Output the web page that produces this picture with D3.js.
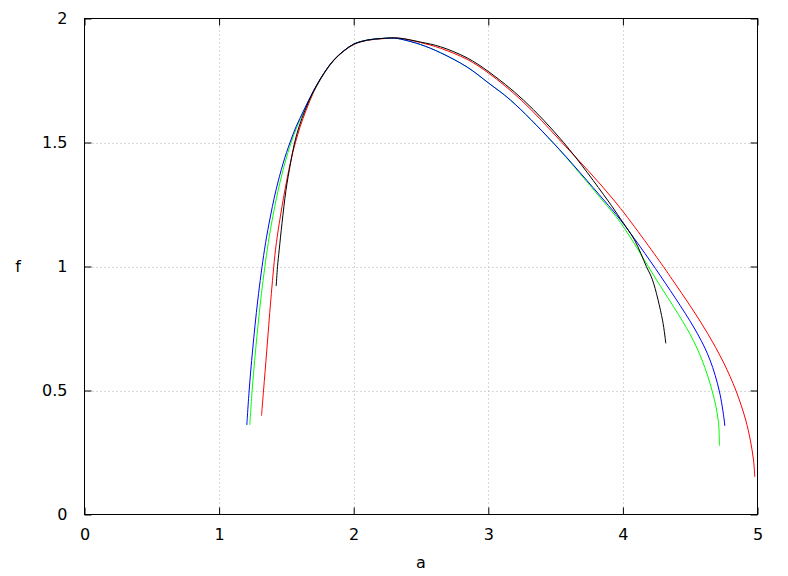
<!DOCTYPE html>
<html><head><meta charset="utf-8">
<script src="https://cdn.jsdelivr.net/npm/d3@7"></script>
<style>body{margin:0;background:#fff}svg{display:block}text{font-family:"DejaVu Sans",sans-serif;font-size:16px;fill:#000}</style>
</head><body><svg id="c" width="788" height="576"></svg>
<script>
const xTicks = [0, 1, 2, 3, 4, 5];
const yTicks = [0, 0.5, 1, 1.5, 2];
const yTickLabels = ["0", "0.5", "1", "1.5", "2"];

const blueA = [1.206,1.223,1.249,1.2875,1.337,1.3715,1.4227,1.4762,1.5253,1.5713,1.630,1.6976,1.7779,1.8522,1.9264,2.0007,2.1003,2.2236,2.2957,2.3477,2.4963,2.6449,2.8432,3.0037,3.1649,3.4822,3.8581,3.9822,4.2793,4.5520,4.6471,4.7162,4.7526,4.7571];
const blueF = [0.361,0.498,0.663,0.865,1.067,1.175,1.308,1.417,1.498,1.563,1.631,1.705,1.779,1.833,1.870,1.897,1.913,1.920,1.921,1.917,1.895,1.862,1.804,1.739,1.671,1.499,1.268,1.1875,0.962,0.731,0.623,0.498,0.381,0.357];

const greenA = [1.2281,1.2452,1.2712,1.3091,1.3574,1.3900,1.4391,1.4889,1.5342,1.5780,1.6345,1.7013,1.7794,1.8536,1.9279,2.0022,2.1003,2.2236,2.2957,2.3477,2.4963,2.6449,2.8432,3.0037,3.1649,3.4822,3.8462,3.9822,4.2496,4.4948,4.5877,4.6634,4.7080,4.7177];
const greenF = [0.361,0.498,0.663,0.865,1.067,1.175,1.308,1.417,1.498,1.563,1.631,1.705,1.779,1.833,1.870,1.897,1.913,1.920,1.921,1.917,1.895,1.862,1.804,1.739,1.671,1.498,1.268,1.177,0.946,0.731,0.623,0.498,0.381,0.276];

const redA = [1.3150,1.3299,1.3544,1.3841,1.4190,1.4473,1.4889,1.5290,1.5661,1.6018,1.6471,1.7043,1.7816,1.8559,1.9302,2.0045,2.1025,2.2251,2.3328,2.4963,2.6449,2.8432,3.0037,3.2444,3.5490,3.9324,4.3016,4.3685,4.5052,4.6285,4.7459,4.8410,4.9123,4.9465,4.9703,4.9799];
const redF = [0.398,0.498,0.663,0.865,1.067,1.175,1.308,1.417,1.498,1.563,1.631,1.705,1.779,1.833,1.870,1.896,1.912,1.919,1.921,1.903,1.880,1.835,1.779,1.671,1.499,1.268,0.999,0.946,0.837,0.731,0.615,0.498,0.381,0.300,0.220,0.151];

const blackA = [1.4242,1.4339,1.4465,1.4673,1.4970,1.5305,1.5602,1.5936,1.6389,1.6999,1.7794,1.8536,1.9279,2.0022,2.1025,2.2251,2.3328,2.4963,2.6449,2.8432,3.0037,3.2615,3.5609,3.8856,3.9822,4.0862,4.1753,4.2199,4.2942,4.3187];
const blackF = [0.921,0.999,1.067,1.174,1.308,1.416,1.498,1.563,1.631,1.705,1.779,1.833,1.870,1.897,1.913,1.920,1.921,1.905,1.886,1.841,1.785,1.671,1.499,1.268,1.192,1.107,0.999,0.946,0.784,0.690];

const series = [
  {color:"#ff0000", a:redA, f:redF},
  {color:"#00ff00", a:greenA, f:greenF},
  {color:"#0000ff", a:blueA, f:blueF},
  {color:"#000000", a:blackA, f:blackF}
];

const svg = d3.select("#c");
const x = d3.scaleLinear().domain([0,5]).range([84.5,757.5]);
const y = d3.scaleLinear().domain([0,2]).range([514.5,18.5]);
const L = x.range()[0], R = x.range()[1], B = y.range()[0], T = y.range()[1];

// grid
const g = svg.append("g");
g.selectAll(".gx").data(xTicks.slice(1,-1)).enter().append("line")
  .attr("x1",d=>Math.round(x(d))+0.5).attr("x2",d=>Math.round(x(d))+0.5).attr("y1",T).attr("y2",B)
  .attr("stroke","#b0b0b0").attr("stroke-dasharray","1,3");
g.selectAll(".gy").data(yTicks.slice(1,-1)).enter().append("line")
  .attr("y1",d=>Math.round(y(d))+0.5).attr("y2",d=>Math.round(y(d))+0.5).attr("x1",L).attr("x2",R)
  .attr("stroke","#b0b0b0").attr("stroke-dasharray","1,3");

// curves
const line = d3.line().x(d=>x(d[0])).y(d=>y(d[1])).curve(d3.curveCatmullRom.alpha(0.5));
series.forEach(s=>{
  svg.append("path").datum(s.a.map((v,i)=>[v,s.f[i]]))
    .attr("d",line).attr("fill","none").attr("stroke",s.color).attr("stroke-width",1);
});

// axes with inward ticks (mirror)
const tl = 7;
svg.append("g").attr("transform",`translate(0,${B})`)
  .call(d3.axisBottom(x).tickValues(xTicks).tickSize(-tl).tickPadding(14).tickFormat(d3.format("d")))
  .call(a=>a.select(".domain").remove());
svg.append("g").attr("transform",`translate(0,${T})`)
  .call(d3.axisTop(x).tickValues(xTicks).tickSize(-tl).tickFormat(""))
  .call(a=>a.select(".domain").remove());
svg.append("g").attr("transform",`translate(${L},0)`)
  .call(d3.axisLeft(y).tickValues(yTicks).tickSize(-tl).tickPadding(17).tickFormat((d,i)=>yTickLabels[i]))
  .call(a=>a.select(".domain").remove());
svg.append("g").attr("transform",`translate(${R},0)`)
  .call(d3.axisRight(y).tickValues(yTicks).tickSize(-tl).tickFormat(""))
  .call(a=>a.select(".domain").remove());
svg.selectAll(".tick line").attr("stroke","#000");
svg.selectAll(".tick text").style("font-family","DejaVu Sans").style("font-size","16px").attr("fill","#000");

// border
svg.append("rect").attr("x",L).attr("y",T).attr("width",R-L).attr("height",B-T)
  .attr("fill","none").attr("stroke","#000").attr("stroke-width",1);

// labels
svg.append("text").attr("x",421).attr("y",568).attr("text-anchor","middle").text("a");
svg.append("text").attr("x",18).attr("y",272).attr("text-anchor","middle").text("f");
</script></body></html>
